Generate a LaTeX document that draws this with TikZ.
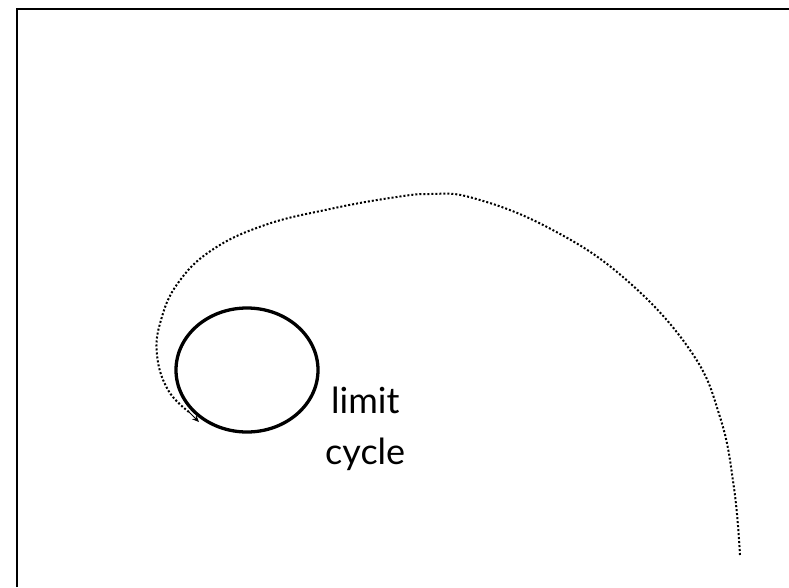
\documentclass[tikz,border=0pt]{standalone}
\usepackage{fontspec}
\setmainfont{Lato}
\usetikzlibrary{arrows.meta}
\begin{document}
\begin{tikzpicture}[x=1pt,y=-1pt,
  frame/.style={line width=2pt,black},
  cyc/.style={line width=3.3pt,black},
  traj/.style={line width=2pt,dash pattern=on 2pt off 2pt,black},
  lbl/.style={font=\fontsize{36}{51}\selectfont,align=left,inner sep=0pt}]
\useasboundingbox (0,0) rectangle (789,587);
\draw[frame] (17,587) -- (17,9) -- (790,9);
\draw[cyc] (247,370) ellipse [x radius=71, y radius=62];
\coordinate (start) at (740,555);
\coordinate (tip) at (199,422);
\draw[traj] plot[smooth,tension=0.7] coordinates {(start) (734,488) (720,417) (690,350) (623,277) (547,227) (473,198) (430,194) (390,198) (330,209) (265,225) (212,250) (178,283) (161,320) (157,355) (168,390) (189,412)};
\draw[line width=1pt,-{Stealth[length=7pt,width=6pt]}] (188,411) -- (tip);
\node[lbl,anchor=base west] (l1) at (331,413) {limit};
\node[lbl,anchor=base west] (l2) at (325,464) {cycle};
\end{tikzpicture}
\end{document}
